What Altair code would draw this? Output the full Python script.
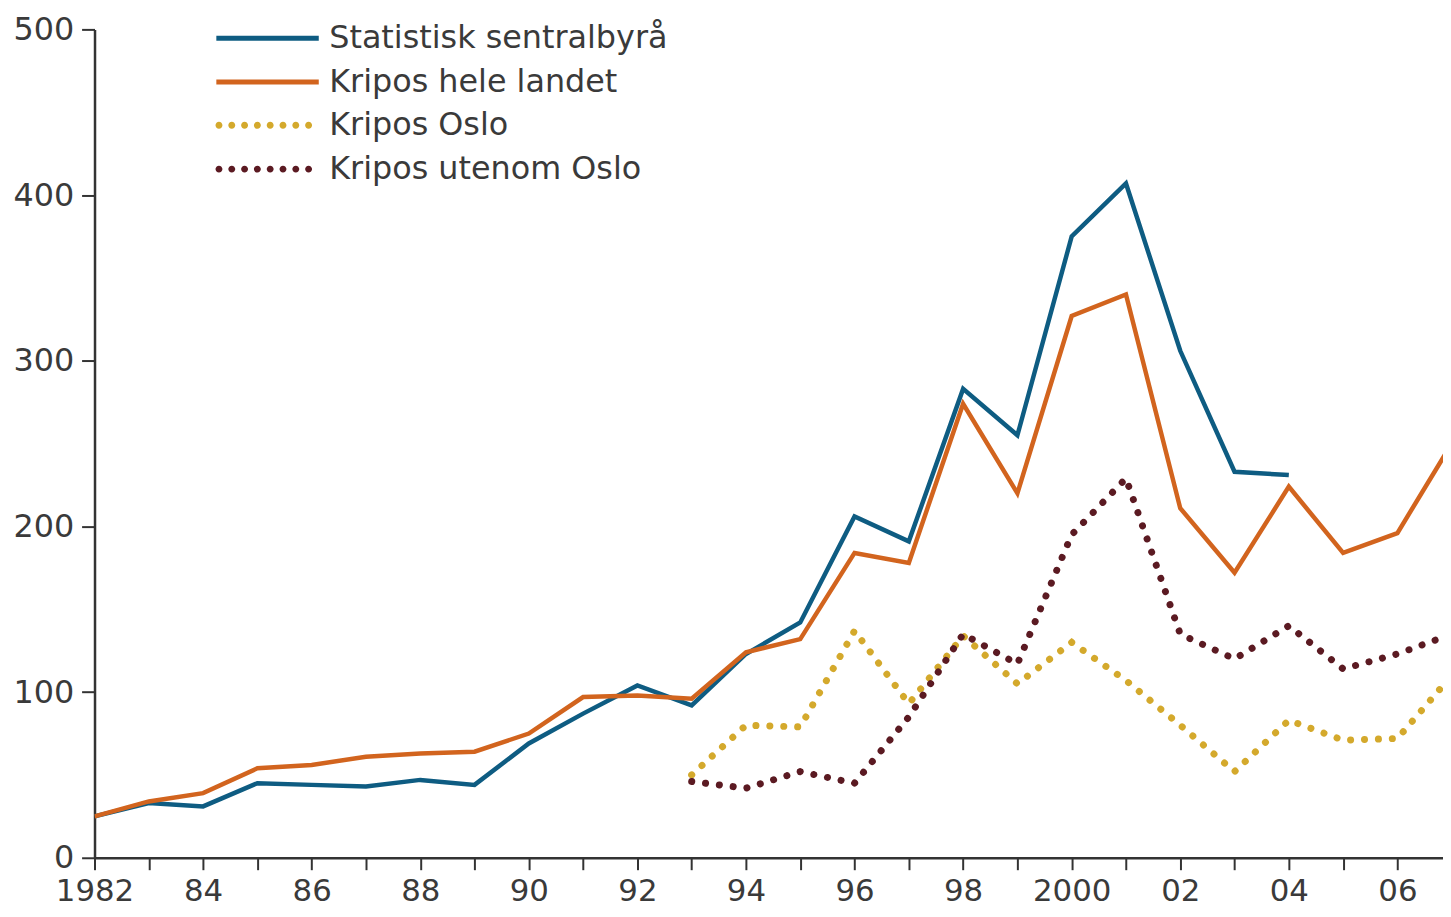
import altair as alt
import pandas as pd

# ---- data ----
series_names = ["Statistisk sentralbyrå", "Kripos hele landet", "Kripos Oslo", "Kripos utenom Oslo"]
series_colors = ["#0e5c82", "#d2641e", "#d4a92c", "#5b1a22"]

years_ssb = list(range(1982, 2005))
ssb = [25, 33, 31, 45, 44, 43, 47, 44, 69, 87, 104, 92, 123, 142, 206, 191, 283, 255, 375, 407, 306, 233, 231]

years_hele = list(range(1982, 2008))
kripos_hele = [25, 34, 39, 54, 56, 61, 63, 64, 75, 97, 98, 96, 124, 132, 184, 178, 274, 220, 327, 340, 211, 172, 224, 184, 196, 250]

years_split = list(range(1993, 2008))
kripos_oslo = [50, 80, 79, 137, 93, 134, 105, 130, 107, 80, 52, 83, 71, 72, 110]
kripos_utenom = [46, 42, 52, 45, 85, 135, 117, 195, 229, 135, 120, 140, 114, 123, 135]

tick_years = list(range(1982, 2007))
tick_labels = ["1982", "", "84", "", "86", "", "88", "", "90", "", "92", "", "94", "", "96", "",
               "98", "", "2000", "", "02", "", "04", "", "06"]
y_ticks = [0, 100, 200, 300, 400, 500]

series_years = [years_ssb, years_hele, years_split, years_split]
series_values = [ssb, kripos_hele, kripos_oslo, kripos_utenom]
series_dotted = [False, False, True, True]
legend_offsets = [-45, -1, 45, 89]   # vertical place of each legend entry

FONT = "DejaVu Sans"
TXT = "#3a3a3a"
label_expr = "[" + ",".join("'%s'" % t for t in tick_labels) + "][datum.value - 1982]"

# legend symbol made of small filled dots (path in the -1..1 symbol box)
r = 0.068
dot_xs = [-0.9 + i * 0.25 for i in range(8)]
dots_path = " ".join("M%.3f,0 a%.3f,%.3f 0 1,0 %.3f,0 a%.3f,%.3f 0 1,0 %.3f,0 Z" % (x - r, r, r, 2 * r, r, r, -2 * r)
                     for x in dot_xs)

x_enc = alt.X("year:Q",
              scale=alt.Scale(domain=[1982, 2006.84], nice=False, zero=False),
              axis=alt.Axis(values=tick_years, labelExpr=label_expr, title=None, grid=False,
                            tickSize=12, tickWidth=2, tickColor="#333333",
                            domainColor="#333333", domainWidth=2.5,
                            labelFont=FONT, labelFontSize=31, labelColor=TXT,
                            labelPadding=7, labelFlush=False, labelOverlap=False))
y_enc = alt.Y("value:Q",
              scale=alt.Scale(domain=[0, 500], nice=False),
              axis=alt.Axis(values=y_ticks, title=None, grid=False,
                            tickSize=13, tickWidth=2, tickColor="#333333",
                            domainColor="#333333", domainWidth=2.5,
                            labelFont=FONT, labelFontSize=32, labelColor=TXT,
                            labelPadding=8))

layers = []
for name, color, yrs, vals, dotted, ly in zip(series_names, series_colors, series_years,
                                              series_values, series_dotted, legend_offsets):
    d = pd.DataFrame({"year": yrs, "value": vals, "series": [name] * len(yrs)})
    common = dict(title=None, orient="none", legendX=120, legendY=ly, symbolSize=10609,
                  labelFont=FONT, labelFontSize=32, labelColor=TXT, labelLimit=1000,
                  padding=0, symbolOffset=0)
    if dotted:
        mark = alt.Chart(d).mark_line(strokeWidth=7, strokeCap="round", strokeDash=[0.1, 13.9], clip=True)
        legend = alt.Legend(symbolType=dots_path, symbolFillColor=color, symbolStrokeWidth=0,
                            labelOffset=13, **common)
    else:
        mark = alt.Chart(d).mark_line(strokeWidth=4.5, strokeJoin="miter", clip=True)
        legend = alt.Legend(symbolType="stroke", symbolStrokeWidth=5, labelOffset=8, **common)
    layers.append(mark.encode(
        x=x_enc, y=y_enc, order="year:Q",
        color=alt.Color("series:N", scale=alt.Scale(domain=[name], range=[color]), legend=legend),
    ))

chart = alt.layer(*layers).resolve_scale(color="independent").properties(
    width=1356, height=833,
    autosize=alt.AutoSizeParams(type="none"),
    padding={"left": 87, "top": 19, "right": 0, "bottom": 48},
    background="white",
).configure_view(stroke=None)

chart.save("out.html", embed_options={"renderer": "svg", "actions": False})
